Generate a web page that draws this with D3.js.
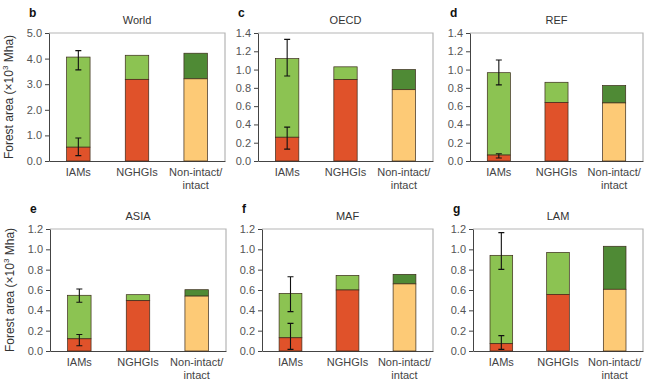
<!DOCTYPE html>
<html><head><meta charset="utf-8">
<script src="https://cdn.jsdelivr.net/npm/d3@7"></script>
<style>body{margin:0;background:#fff}svg{display:block;font-family:"Liberation Sans",Arial,sans-serif}</style>
</head><body><svg id="c" width="650" height="390"></svg>
<script>
const regions = ["World","OECD","REF","ASIA","MAF","LAM"];
const panelLetters = ["b","c","d","e","f","g"];
const categories = ["IAMs","NGHGIs","Non-intact/intact"];
const yMax = [5.0,1.4,1.4,1.2,1.2,1.2];
const tickStep = [1.0,0.2,0.2,0.2,0.2,0.2];
// lower segment: IAMs/NGHGIs = managed (red), Non-intact (yellow)
const lowerValues = [[0.54,3.19,3.21],[0.26,0.89,0.78],[0.065,0.64,0.635],[0.12,0.495,0.54],[0.13,0.60,0.66],[0.072,0.557,0.607]];
// total bar height
const totalValues = [[4.06,4.13,4.21],[1.12,1.03,1.00],[0.966,0.861,0.826],[0.548,0.554,0.603],[0.567,0.744,0.754],[0.941,0.970,1.03]];
// IAMs error bars [low, high]
const iamLowerErr = [[0.21,0.90],[0.13,0.37],[0.032,0.079],[0.052,0.163],[0.016,0.272],[0.016,0.151]];
const iamTotalErr = [[3.56,4.31],[0.93,1.33],[0.833,1.105],[0.48,0.61],[0.387,0.731],[0.803,1.164]];

const colLower = ["#E0522A","#E0522A","#FDCA76"];
const colUpper = ["#8CC352","#8CC352","#4F8A35"];

const panels = [
  {x0:49,x1:225,y0:33,y1:161},{x0:258,x1:433,y0:33,y1:161},{x0:470,x1:643,y0:33,y1:161},
  {x0:50,x1:226,y0:229,y1:351},{x0:262,x1:433,y0:229,y1:351},{x0:473,x1:643,y0:229,y1:351}
];
const svg = d3.select("#c");
regions.forEach((reg,i)=>{
  const p = panels[i];
  const g = svg.append("g");
  const x = d3.scaleBand().domain(categories).range([p.x0,p.x1]).paddingInner(0.6).paddingOuter(0.3);
  const y = d3.scaleLinear().domain([0,yMax[i]]).range([p.y1,p.y0]);
  g.append("path").attr("d",`M${p.x0},${p.y0}H${p.x1}V${p.y1}`).attr("fill","none").attr("stroke","#b5b5b5").attr("stroke-width",1.2);
  const ticks = d3.range(0,yMax[i]+1e-9,tickStep[i]);
  const ya = g.append("g").attr("transform",`translate(${p.x0},0)`)
    .call(d3.axisLeft(y).tickValues(ticks).tickFormat(d3.format(".1f")).tickSize(4).tickSizeOuter(0).tickPadding(3));
  ya.select(".domain").attr("stroke","#444");
  ya.selectAll(".tick line").attr("stroke","#444");
  ya.selectAll("text").attr("fill","#555").style("font-size","11px");
  const xa = g.append("g").attr("transform",`translate(0,${p.y1})`)
    .call(d3.axisBottom(x).tickSize(0).tickSizeOuter(0).tickPadding(7));
  xa.select(".domain").attr("stroke","#444");
  xa.selectAll(".tick text").attr("fill","#444").style("font-size","11px").each(function(d){
    const t = d3.select(this);
    if(d.includes("/")){
      const parts = d.split("/");
      t.text(null);
      t.append("tspan").attr("x",0).attr("dy","0.71em").text(parts[0]+"/");
      t.append("tspan").attr("x",0).attr("dy","1.2em").text(parts[1]);
      t.attr("dy",null);
    }
  });
  categories.forEach((c,j)=>{
    const bx = x(c), bw = x.bandwidth();
    g.append("rect").attr("x",bx).attr("width",bw).attr("y",y(totalValues[i][j])).attr("height",y(lowerValues[i][j])-y(totalValues[i][j]))
      .attr("fill",colUpper[j]).attr("stroke","#3a2a1a").attr("stroke-width",0.7);
    g.append("rect").attr("x",bx).attr("width",bw).attr("y",y(lowerValues[i][j])).attr("height",y(0)-y(lowerValues[i][j]))
      .attr("fill",colLower[j]).attr("stroke","#3a2a1a").attr("stroke-width",0.7);
  });
  const cx = x("IAMs")+x.bandwidth()/2;
  [iamLowerErr[i],iamTotalErr[i]].forEach(e=>{
    g.append("path").attr("d",`M${cx},${y(e[0])}V${y(e[1])}M${cx-3},${y(e[0])}H${cx+3}M${cx-3},${y(e[1])}H${cx+3}`)
      .attr("stroke","#111").attr("stroke-width",1.1).attr("fill","none");
  });
  g.append("text").attr("x",(p.x0+p.x1)/2).attr("y",p.y0-9).attr("text-anchor","middle").attr("fill","#333").style("font-size","11px").text(reg);
  g.append("text").attr("x",p.x0-20).attr("y",p.y0-16).attr("fill","#111").style("font-size","12px").style("font-weight","bold").text(panelLetters[i]);
  if(i%3===0){
    g.append("text").attr("transform",`translate(${p.x0-36},${(p.y0+p.y1)/2}) rotate(-90)`).attr("text-anchor","middle")
      .attr("fill","#333").style("font-size","12px")
      .html('Forest area (×10<tspan dy="-5" font-size="8">3</tspan><tspan dy="5"> Mha)</tspan>');
  }
});
</script></body></html>
